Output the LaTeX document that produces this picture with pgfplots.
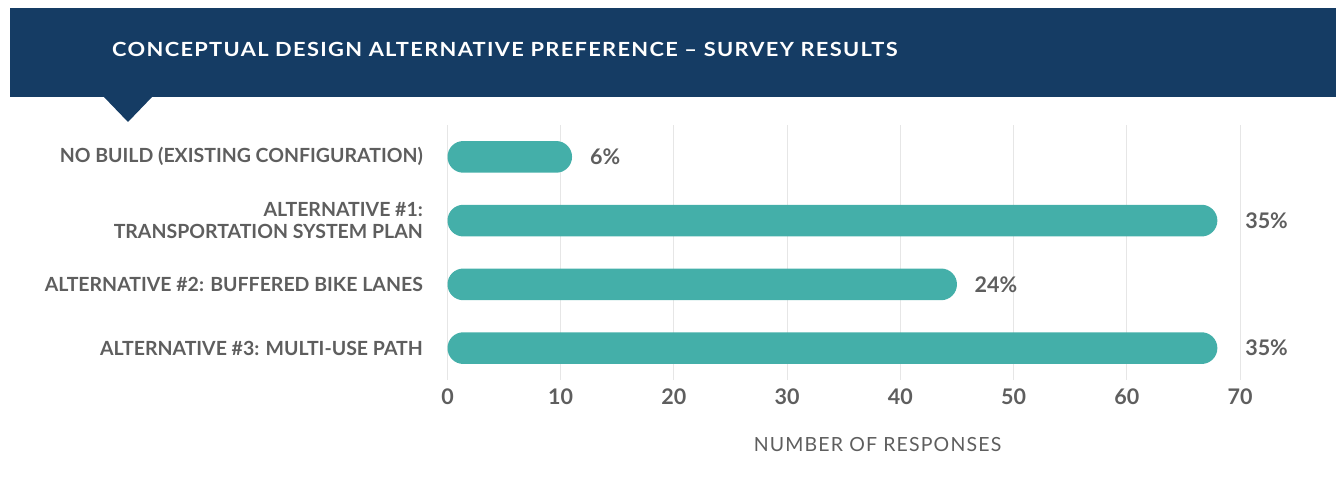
\documentclass[border=0pt]{standalone}
\usepackage{fontspec}
\setmainfont{Lato}
\usepackage{pgfplots}
\pgfplotsset{compat=1.18}
\definecolor{banner}{HTML}{153C64}
\definecolor{barteal}{HTML}{44AFA9}
\definecolor{txt}{HTML}{5E5E5E}
\definecolor{gridc}{HTML}{E6E6E6}
\begin{document}
\begin{tikzpicture}
\path[use as bounding box] (0,0) rectangle (1336pt,492pt);
\fill[banner] (10pt,395pt) rectangle (1336pt,484pt);
\fill[banner] (103pt,396pt) -- (153pt,396pt) -- (128pt,370pt) -- cycle;
\node[anchor=base west, inner sep=0pt, text=white, xscale=1.12, transform shape, font=\bfseries\fontsize{19.5}{22}\selectfont\addfontfeatures{LetterSpace=6}] at (112pt,435pt) {CONCEPTUAL DESIGN ALTERNATIVE PREFERENCE – SURVEY RESULTS};
\begin{axis}[name=ax,
  at={(447.5pt,112pt)}, anchor=south west,
  width=792.5pt, height=255pt, scale only axis,
  xmin=0, xmax=70, ymin=-0.5, ymax=3.5, y dir=reverse,
  clip=false,
  axis line style={draw=none},
  major tick length=0pt,
  xmajorgrids, grid style={gridc, line width=1pt},
  xtick={0,10,...,70},
  ytick={0,1,2,3},
  yticklabels={{NO BUILD (EXISTING CONFIGURATION)},{ALTERNATIVE \#1:\\TRANSPORTATION SYSTEM PLAN},{ALTERNATIVE \#2: BUFFERED BIKE LANES},{ALTERNATIVE \#3: MULTI-USE PATH}},
  yticklabel style={align=right, anchor=east, inner sep=0pt, xshift=-24.5pt, text=txt, font=\bfseries\fontsize{19.5}{22.5}\selectfont},
  /pgf/number format/assume math mode=true,
  xticklabel style={anchor=north, inner sep=0pt, yshift=-9pt, text=txt, font=\bfseries\fontsize{21.5}{24}\selectfont},
  xlabel={NUMBER OF RESPONSES},
  xlabel style={at={(axis description cs:0.5426,0)}, anchor=north, inner sep=0pt, yshift=-57pt, text=txt, font=\fontsize{19.5}{22}\selectfont\addfontfeatures{LetterSpace=6}},
]
\addplot[xbar, fill=barteal, draw=none, bar width=31.7pt, rounded corners=15.8pt] coordinates {(11,0) (68,1) (45,2) (68,3)};
\addplot[draw=none, mark=none, nodes near coords, point meta=explicit symbolic,
  nodes near coords style={anchor=west, inner sep=0pt, text=txt, font=\bfseries\fontsize{21.5}{24}\selectfont}]
  coordinates {(12.58,0)[6\%] (70.45,1)[35\%] (46.55,2)[24\%] (70.45,3)[35\%]};
\end{axis}
\end{tikzpicture}
\end{document}
